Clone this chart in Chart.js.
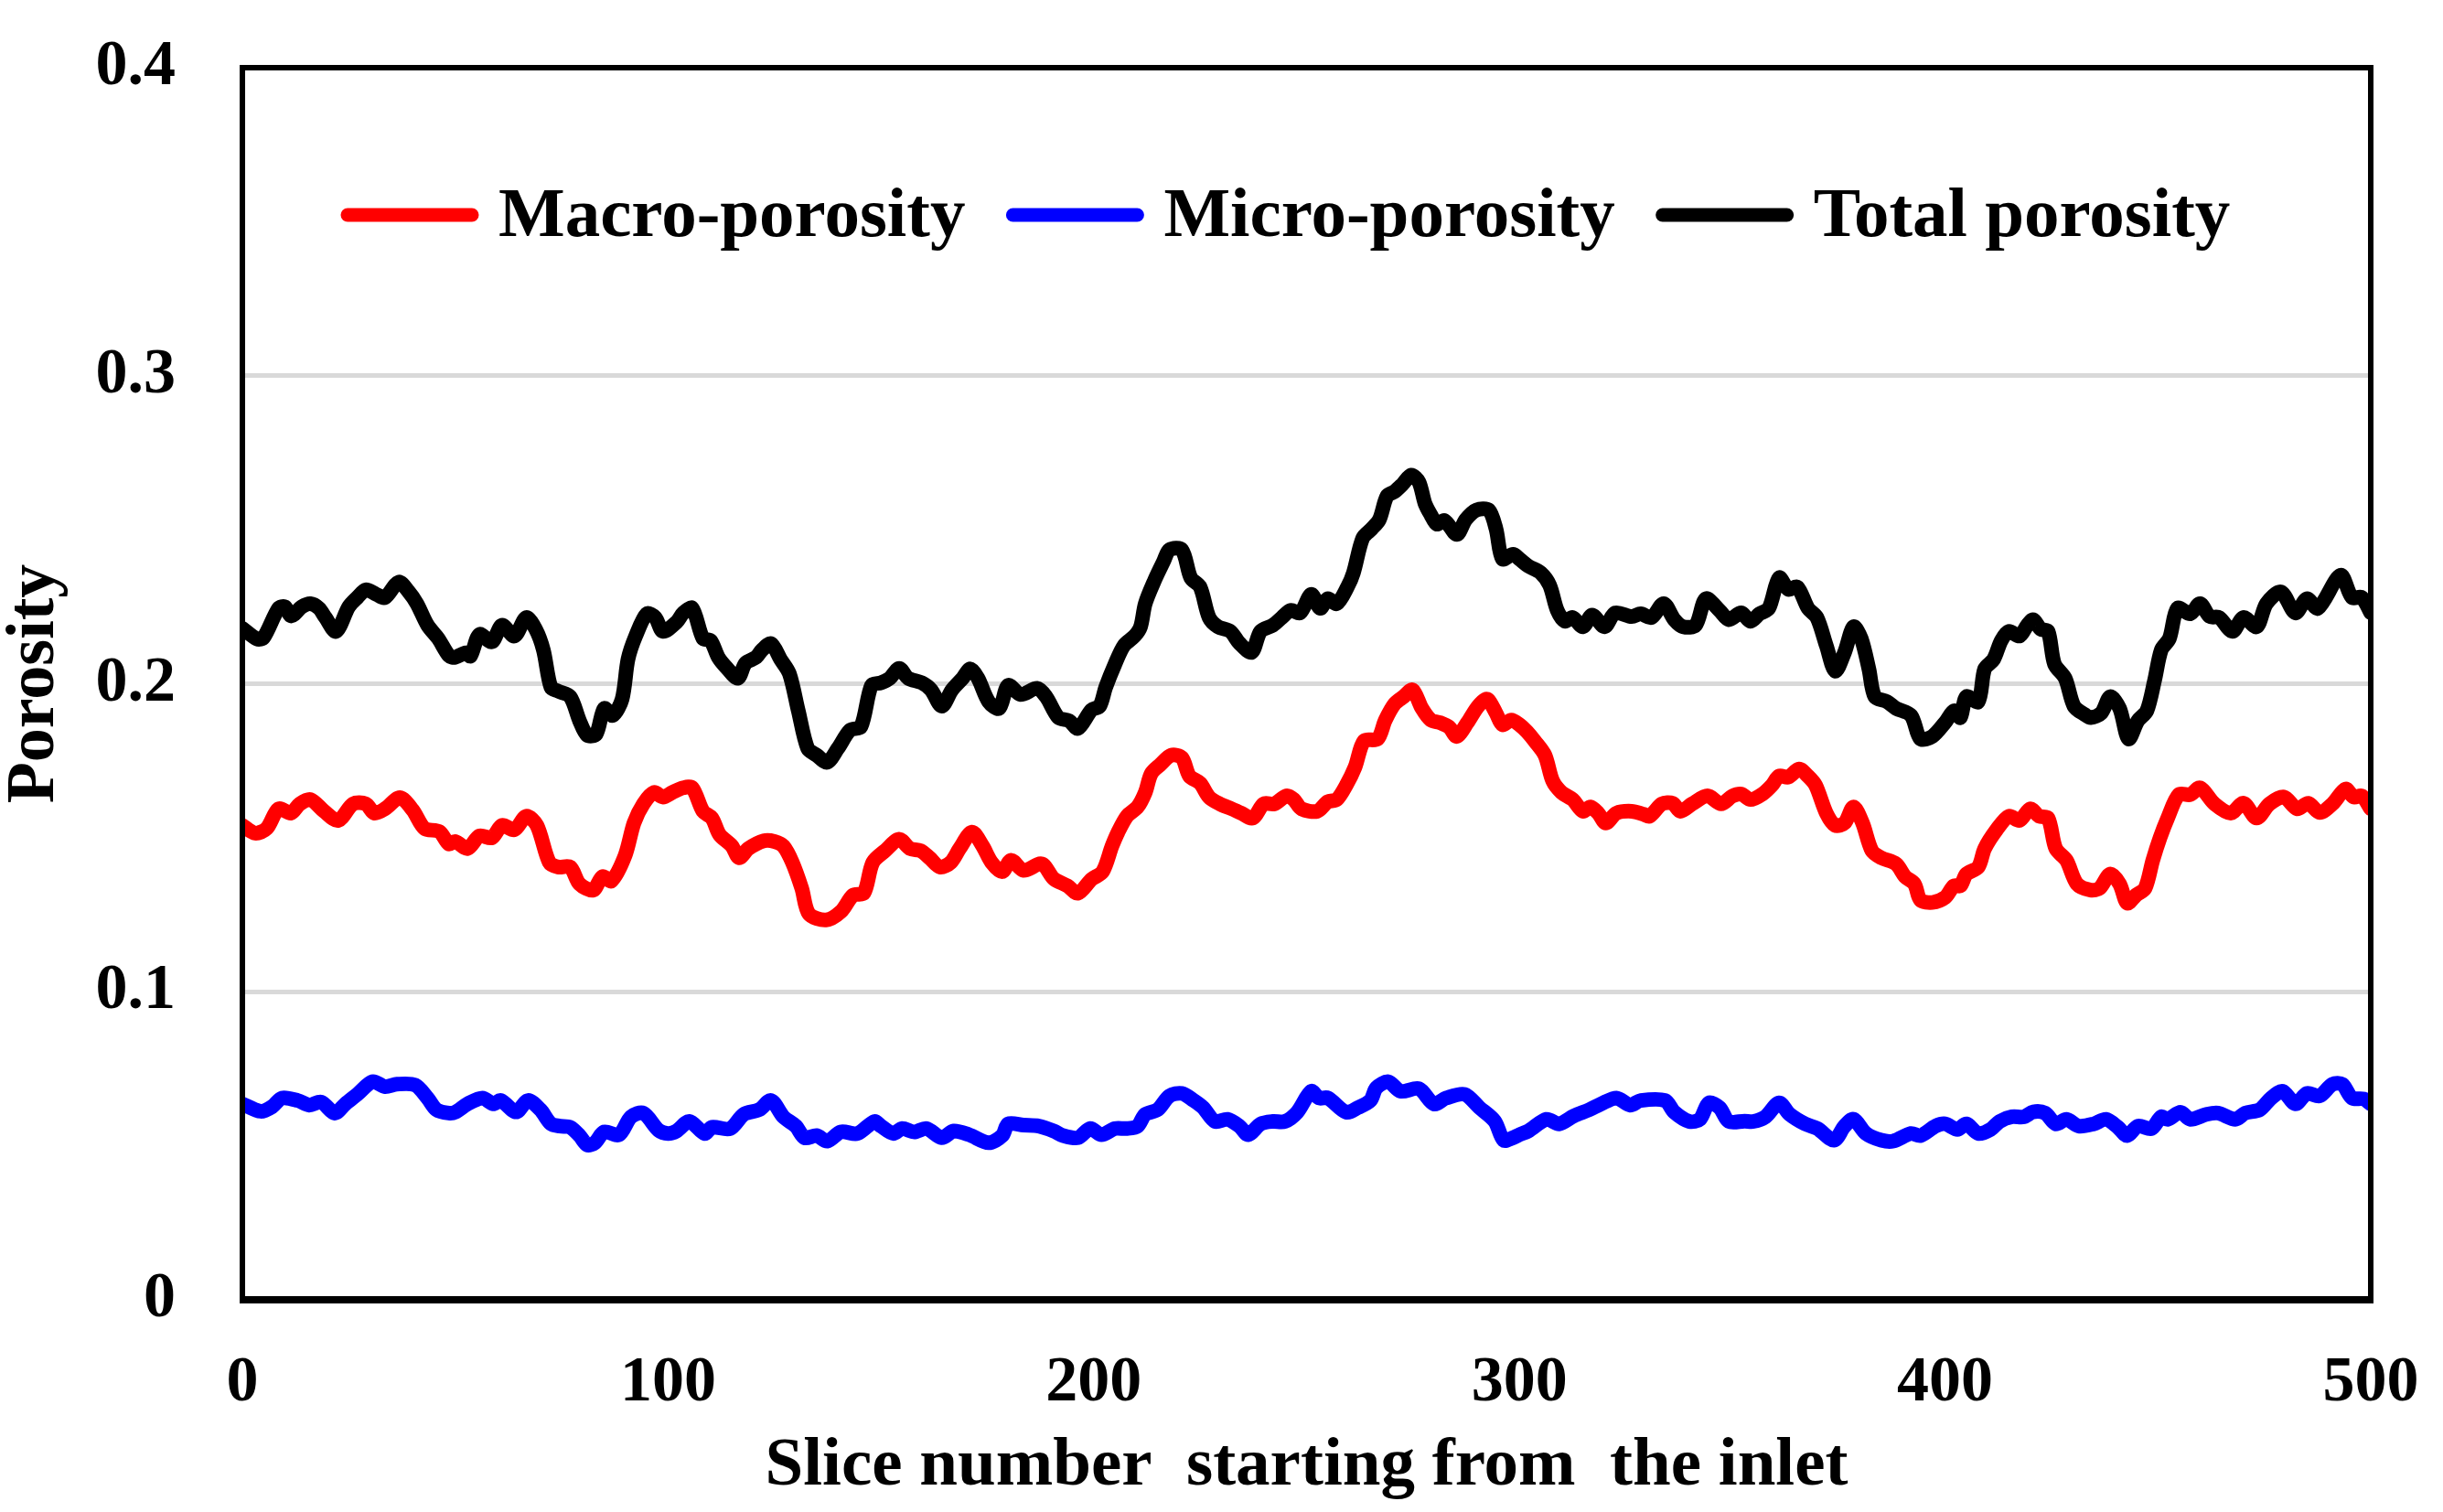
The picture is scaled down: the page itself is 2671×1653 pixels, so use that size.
<!DOCTYPE html>
<html>
<head>
<meta charset="utf-8">
<script src="https://cdn.jsdelivr.net/npm/chart.js@4.4.1/dist/chart.umd.min.js"></script>
<style>html,body{margin:0;padding:0;background:#fff;}canvas{display:block;}</style>
</head>
<body>
<canvas id="c" width="2671" height="1653"></canvas>
<script>
// ---------------- DATA ----------------
const seriesLabels = ['Macro-porosity', 'Micro-porosity', 'Total porosity'];
const seriesColors = ['#ff0000', '#0000ff', '#000000'];

const macroX = [0,3,5.7,8.5,11.4,13.5,16,19.2,22.5,26,29,31,33.5,37,40,42.8,46.3,48.5,
 50,52.9,55.7,58.6,61,63.9,66.7,69.2,72.1,74.2,77,79.2,82.4,84.6,86.7,89.9,92,94.2,96.7,98.8,
 101,103.6,105.7,108.2,110.3,112.1,115,116.7,118.9,122.5,125,127.1,129.2,131.4,133.1,137.1,140.6,143.5,146,148.1,
 151,154.3,156.8,159.3,161.4,163.9,166.4,168.5,171.4,173.9,176,178.5,180.6,183.5,187.8,190.6,193.8,196.3,
 199.5,202.1,204.3,205.7,207.8,210.3,212.1,213.5,215.7,218.2,220.7,222.5,225,227.1,229.6,232.4,234.6,237.4,239.9,242.4,245.3,247,248.8,
 252.5,255,257.1,259.3,261.4,263.5,266.7,268.5,270.7,272.8,274.9,277.1,279.2,281.3,283.5,285.3,287.8,290.3,292.4,294.5,296,298.1,
 300,301.8,303.6,306,307.8,309.9,312.5,314.9,316.7,318.5,320.3,322.8,326.4,329.2,330.6,333.5,336,337.8,340.6,344.2,347.4,
 350,352.1,354.3,357.1,359.3,361,363.2,365.7,367.8,369.6,372.1,374.2,376.4,378.5,380.6,382.8,385,388.5,390.6,392.8,394.2,397,
 400,402.1,403.6,405,407.8,409.3,412.1,415,417.5,420,422.1,424.2,426,428.5,431,434.2,436.3,438.8,441,442.8,444.9,447,448.8,
 450.5,452.3,454.9,457.6,459.9,463.3,467.1,470.1,473.2,476.2,479.6,482.7,485.3,488,491,494.1,496,497.9,500];
const macroY = [0.154,0.1515,0.153,0.1594,0.158,0.161,0.1624,0.1586,0.1556,0.161,0.161,0.158,0.1594,0.163,0.159,0.153,0.152,0.148,
 0.1488,0.1465,0.1506,0.150,0.154,0.1526,0.157,0.154,0.142,0.1405,0.1405,0.135,0.133,0.1374,0.136,0.1442,0.1548,0.161,0.1647,0.1632,
 0.1647,0.1662,0.1662,0.1586,0.1564,0.151,0.1473,0.1435,0.1465,0.149,0.1488,0.1473,0.142,0.1336,0.1253,0.1233,0.126,0.1314,0.132,0.142,
 0.1458,0.1495,0.1465,0.1458,0.1435,0.1405,0.142,0.1465,0.1518,0.1473,0.142,0.139,0.1427,0.1394,0.1415,0.1367,0.1344,0.132,
 0.1365,0.139,0.1473,0.1518,0.157,0.160,0.1647,0.1708,0.1738,0.1768,0.176,0.170,0.1677,0.1632,0.161,0.1594,0.158,0.1564,0.161,0.161,0.1636,0.1624,0.1594,
 0.1586,0.1617,0.1624,0.167,0.173,0.1814,0.1821,0.1882,0.1935,0.1958,0.198,0.192,0.1882,0.1874,0.1859,0.1829,0.1874,0.1927,0.195,0.1905,0.1867,0.1882,
 0.1867,0.1844,0.1814,0.1768,0.1685,0.1647,0.1624,0.1586,0.160,0.158,0.1548,0.158,0.1586,0.1576,0.157,0.161,0.1612,0.1586,0.161,0.1636,0.161,
 0.1635,0.1642,0.1624,0.1642,0.167,0.170,0.1697,0.1723,0.170,0.167,0.158,0.154,0.1548,0.160,0.1548,0.1458,0.1435,0.1415,0.1374,0.135,0.1298,0.129,
 0.1306,0.1344,0.1344,0.1382,0.1405,0.1465,0.1526,0.157,0.1556,0.1594,0.157,0.1564,0.1465,0.1427,0.135,0.133,0.1336,0.1382,0.135,0.1288,0.1314,0.1336,0.1427,
 0.150,0.1564,0.164,0.164,0.1662,0.161,0.158,0.1612,0.1564,0.161,0.1632,0.1594,0.1612,0.1582,0.161,0.1658,0.1632,0.1636,0.1594];

const microX = [0,4.3,7,9.3,13,15.7,18.5,21.7,24.2,27,30.6,33.5,36.3,40.6,43.5,45.6,48.5,
 50,52.9,56.4,58.9,60.7,64.3,67.1,70,72.5,74.6,77,79.2,81,82.8,85,88.5,91.3,94.2,97.8,
 100,102,105,108.6,110.3,114.6,117.8,121.4,124.2,127.1,130,132.1,134.9,137.4,140.6,144.5,148.5,
 150,152.9,155,157.8,160.7,164.3,167.1,170.7,175.3,178.5,179.9,183.5,187.1,190.6,192.8,196.3,199.2,
 201.8,205,207.8,210.3,212.1,215,217.8,220.7,223.5,225.7,228.5,231.4,234.2,236.3,239.2,242.1,244.9,247.8,
 251.1,252.9,255,259.3,262.1,265,266.4,269.2,272.1,276.4,279.9,282.8,287.1,290.6,294.2,296.3,298.5,
 300,302.1,306.4,309.3,312.8,316.4,319.2,322.8,326,328.5,334.2,336.4,339.9,342.4,344.5,347,349.2,
 352.9,355,357.8,361,363.5,367.1,370,373.9,376.4,378.5,381.4,385,387.8,392,394.2,397.8,
 400,402.9,405,407.8,410.7,412.8,415.7,418.5,420.7,423.5,426,428.5,431.4,434.9,437.8,440.6,442.8,445.3,448.5,
 450.8,452.3,455.3,457.6,461.4,464.1,468.2,470.5,473.9,476.6,479.3,482.3,485,488,491,493.3,495.6,498.3,500];
const microY = [0.0636,0.0612,0.0627,0.0655,0.0647,0.0632,0.0642,0.0606,0.0636,0.0667,0.0708,0.0692,0.070,0.0697,0.0655,0.0617,0.0606,
 0.0609,0.0636,0.0655,0.0636,0.0647,0.061,0.0647,0.0617,0.0571,0.0564,0.056,0.0533,0.0503,0.051,0.0545,0.0536,0.0594,0.0606,0.055,
 0.054,0.0548,0.0579,0.054,0.056,0.0556,0.0602,0.0617,0.0647,0.0594,0.0564,0.0526,0.0533,0.0515,0.0545,0.054,0.0579,
 0.0564,0.054,0.0556,0.0545,0.0556,0.0526,0.0548,0.0536,0.051,0.0533,0.0571,0.0567,0.0564,0.0548,0.0533,0.0526,0.0556,
 0.0536,0.0556,0.0556,0.0564,0.0602,0.0617,0.0662,0.067,0.0647,0.0624,0.0579,0.0586,0.0564,0.0536,0.0571,0.0579,0.0579,0.0609,
 0.0677,0.0655,0.0655,0.0609,0.0624,0.0647,0.0688,0.0708,0.0677,0.0685,0.0636,0.0655,0.0667,0.0624,0.058,0.0518,0.0526,
 0.0536,0.0548,0.0586,0.0571,0.0597,0.0617,0.0636,0.0655,0.0632,0.0647,0.0647,0.0609,0.0579,0.0586,0.0639,0.0624,0.0579,
 0.058,0.0579,0.0594,0.0639,0.0602,0.0571,0.0556,0.0518,0.0564,0.0586,0.054,0.0518,0.0515,0.054,0.0533,0.0564,
 0.0571,0.0553,0.0571,0.054,0.0553,0.0579,0.0594,0.0594,0.061,0.0606,0.0571,0.0586,0.0564,0.0571,0.0586,0.056,0.0533,0.0564,0.0556,
 0.0594,0.0586,0.0609,0.0586,0.0602,0.0606,0.0586,0.0606,0.0617,0.0655,0.0677,0.0636,0.067,0.0662,0.070,0.070,0.0655,0.0652,0.0636];

const totalX = [0,3.5,5,8.5,10,11.5,14,16,18,19.5,22,25,27,29,31.5,33.5,36.7,39,41,43.5,46,48.6,
 50,52.5,53.6,55.7,58.6,61,63.9,66.7,68.9,70.7,72.5,74.2,77,79.2,81,83.1,85,87,89.2,90.6,92.4,95,97,98.8,
 102,103.6,105.7,108.2,110,111.8,113.9,116.4,118.2,120.7,122.1,124.2,126.4,128.5,130.6,132.8,134.9,137.4,139.9,142.8,145.3,147.8,
 150,152.1,154.3,156.4,159.6,161.8,164.3,166.7,169.2,171,172.8,175.3,177.8,179.9,182.8,186.7,188.8,191.7,194.2,196.3,
 199.5,201.4,202.8,205,207.1,209.6,211,212.1,214.3,216.4,217.8,220.7,222.8,225,227.1,229.2,232.1,234.2,237.1,239.2,242.1,244.2,246.3,248.5,
 251.1,253.2,255,257.1,259.6,261,263.2,265.3,267.1,268.9,270.7,272.5,274.6,276.4,277.8,279.2,280.6,282.4,285.3,287.4,289.9,292.8,294.5,296,298.5,
 300,302.1,305,307.1,308.9,310.7,312.5,314.9,317.1,320,322.5,326.4,328.5,331,333.9,336.4,338.5,341.4,343.8,347,349.2,
 352.1,354.3,356.4,358.6,361,363.2,365.3,367.8,369.9,372.1,374.2,376.4,378.5,380.3,382.1,383.5,386.3,388.5,392,394.2,397,
 400,402.1,403.6,405,407.8,409.3,411.4,413.2,415,417.5,419.3,420.7,422.5,424.2,425.7,428.2,430.3,432.8,434.2,436.7,438.8,441,443.1,445.3,447.4,
 449.2,450.8,452.7,454.6,457.6,459.9,462.2,464.4,467.5,470.1,473.2,475.5,478.9,482.3,485,487.6,492.9,495.6,497.9,500];
const totalY = [0.218,0.2145,0.215,0.2245,0.225,0.222,0.225,0.226,0.2245,0.2215,0.217,0.225,0.228,0.2305,0.229,0.228,0.233,0.230,0.226,0.219,0.2147,0.209,
 0.2086,0.210,0.209,0.216,0.2136,0.219,0.2155,0.2215,0.2177,0.211,0.1988,0.1976,0.1958,0.188,0.1833,0.1836,0.192,0.1897,0.195,0.208,0.2155,0.2227,0.2215,0.217,
 0.220,0.223,0.2245,0.2147,0.214,0.2086,0.205,0.2018,0.2067,0.2086,0.211,0.213,0.208,0.2033,0.1912,0.179,0.1768,0.1745,0.179,0.185,0.186,0.1995,
 0.2003,0.2018,0.205,0.2018,0.2003,0.198,0.1927,0.198,0.2018,0.2048,0.2018,0.1942,0.192,0.1995,0.1965,0.1985,0.1958,0.189,0.188,0.1855,
 0.1915,0.1927,0.1988,0.2064,0.2124,0.2155,0.2185,0.226,0.2336,0.2397,0.2435,0.2435,0.2344,0.2314,0.2215,0.2185,0.217,0.2132,0.2102,0.217,0.219,0.2215,0.2238,0.223,
 0.229,0.2245,0.2276,0.226,0.2314,0.236,0.2473,0.2503,0.2533,0.2609,0.2624,0.2647,0.2677,0.2655,0.2586,0.2548,0.2518,0.253,0.2485,0.2533,0.2564,0.2564,0.2503,0.2405,0.242,
 0.2405,0.2382,0.236,0.232,0.2238,0.2203,0.2215,0.2185,0.2223,0.2185,0.223,0.2218,0.2227,0.2215,0.226,0.2208,0.2185,0.219,0.2276,0.2238,0.2208,
 0.223,0.2203,0.2227,0.2245,0.2344,0.2306,0.2314,0.2245,0.2215,0.2124,0.2041,0.2102,0.2185,0.2147,0.2048,0.1958,0.1942,0.192,0.1897,0.1821,0.1829,
 0.1874,0.1912,0.189,0.1958,0.1942,0.2048,0.2079,0.214,0.217,0.2155,0.219,0.2208,0.2177,0.217,0.2064,0.2018,0.1927,0.19,0.189,0.1905,0.1958,0.192,0.1821,0.188,0.1912,
 0.201,0.211,0.2147,0.2245,0.2227,0.226,0.2218,0.2215,0.217,0.2215,0.2185,0.226,0.2298,0.223,0.2276,0.2245,0.2352,0.228,0.228,0.223];

const xTickValues = [0, 100, 200, 300, 400, 500];
const yTickLabels = ['0', '0.1', '0.2', '0.3', '0.4'];
const xAxisTitle = 'Slice number  starting from  the inlet';
const yAxisTitle = 'Porosity';

// ---------------- CHART ----------------
const FONT = "'Liberation Serif','Times New Roman',serif";
const toPoints = (xs, ys) => xs.map((x, i) => ({x: x, y: ys[i]}));
const seriesData = [toPoints(macroX, macroY), toPoints(microX, microY), toPoints(totalX, totalY)];

const boxAndLegend = {
  id: 'boxAndLegend',
  afterDraw(chart) {
    const {ctx, chartArea: a} = chart;
    ctx.save();
    // plot frame
    ctx.strokeStyle = '#000';
    ctx.lineWidth = 6;
    ctx.strokeRect(a.left, a.top, a.right - a.left, a.bottom - a.top);
    ctx.lineWidth = 8;
    ctx.beginPath(); ctx.moveTo(a.left - 3, a.bottom); ctx.lineTo(a.right + 3, a.bottom); ctx.stroke();
    // legend inside the plot
    ctx.font = 'bold 77px ' + FONT;
    ctx.textBaseline = 'middle';
    ctx.textAlign = 'left';
    let x = 373;
    const y = 235;
    chart.data.datasets.forEach(ds => {
      ctx.strokeStyle = ds.borderColor;
      ctx.lineWidth = 15;
      ctx.lineCap = 'round';
      ctx.beginPath(); ctx.moveTo(x + 7, y); ctx.lineTo(x + 143, y); ctx.stroke();
      x += 150 + 22;
      ctx.fillStyle = '#000';
      ctx.fillText(ds.label, x, y + 3);
      x += ctx.measureText(ds.label).width + 45;
    });
    ctx.restore();
  }
};

new Chart(document.getElementById('c').getContext('2d'), {
  type: 'line',
  data: {
    datasets: seriesLabels.map((lab, i) => ({
      label: lab,
      data: seriesData[i],
      borderColor: seriesColors[i],
      backgroundColor: seriesColors[i],
      borderWidth: 16,
      pointRadius: 0,
      tension: 0.3,
      borderJoinStyle: 'round',
      borderCapStyle: 'round',
      fill: false
    }))
  },
  options: {
    responsive: false,
    animation: false,
    devicePixelRatio: 1,
    layout: {padding: {left: 0, right: 79, top: 74, bottom: 0}},
    plugins: {legend: {display: false}, tooltip: {enabled: false}},
    scales: {
      x: {
        type: 'linear', min: 0, max: 500,
        afterBuildTicks: s => { s.ticks = xTickValues.map(v => ({value: v})); },
        ticks: {font: {family: FONT, size: 70, weight: 'bold'}, color: '#000', padding: 50, maxRotation: 0, autoSkip: false},
        grid: {display: false, drawTicks: false},
        border: {display: false},
        title: {display: true, text: xAxisTitle, color: '#000',
                font: {family: FONT, size: 75, weight: 'bold', lineHeight: 1.2}, padding: {top: 0, bottom: 4}},
        afterFit: s => { s.height = 232; s.paddingLeft = 0; s.paddingRight = 0; }
      },
      y: {
        min: 0, max: 0.4,
        afterBuildTicks: s => { s.ticks = yTickLabels.map(t => ({value: parseFloat(t)})); },
        ticks: {callback: (v, i) => yTickLabels[i], font: {family: FONT, size: 70, weight: 'bold'}, color: '#000', padding: 73},
        grid: {
          drawTicks: false, lineWidth: 5,
          color: c => (c.tick && (c.tick.value <= 0.0001 || c.tick.value >= 0.3999)) ? 'rgba(0,0,0,0)' : '#d9d9d9'
        },
        border: {display: false},
        title: {display: true, text: yAxisTitle, color: '#000',
                font: {family: FONT, size: 74, weight: 'bold', lineHeight: 1}, padding: {top: 2, bottom: 0}},
        afterFit: s => { s.width = 265; s.paddingTop = 0; s.paddingBottom = 0; }
      }
    }
  },
  plugins: [boxAndLegend]
});
</script>
</body>
</html>
